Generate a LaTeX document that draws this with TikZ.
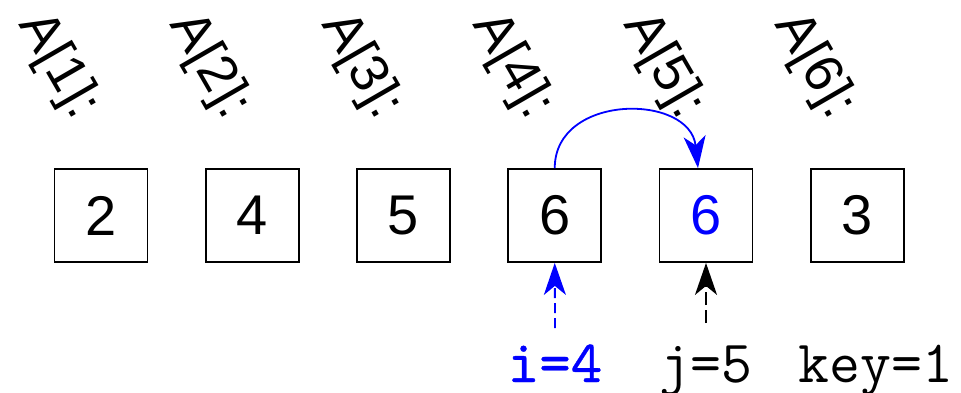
\documentclass[tikz,border=0pt]{standalone}
\usepackage{fontspec}
\setmainfont{Liberation Sans}
\newfontfamily\medmono[FakeBold=0.6]{lmmono10-regular.otf}
\usetikzlibrary{arrows.meta}
\begin{document}
\begin{tikzpicture}[x=1pt,y=-1pt,
  cell/.style={draw, line width=1.8pt, minimum size=93pt, inner sep=0pt,
    font=\fontsize{56}{60}\selectfont},
  lab/.style={rotate=-60, inner sep=0pt, font=\fontsize{54}{58}\selectfont},
  tip/.style={-{Stealth[length=32pt,width=22pt,inset=9pt]}},
  ptr/.style={line width=1.8pt, tip},
  var/.style={anchor=base, inner sep=0pt, font=\ttfamily\fontsize{60}{62}\selectfont}]
\useasboundingbox (0,0) rectangle (961,392);
\foreach \v/\c [count=\k] in {2/black,4/black,5/black,6/black,6/blue,3/black}{
  \node[cell, text=\c] (b\k) at ({101+151.25*(\k-1)},215.5) {\v};
  \node[lab] (l\k) at ({58.5+151.25*(\k-1)},66) {A[\k]:};
}
\draw[ptr, blue] (b4.north) .. controls +(0,-75) and +(-8,-75) .. ([xshift=-8pt]b5.north);
\node[var, text=blue, font=\medmono\fontsize{60}{62}\selectfont] (vi) at (555,382) {i=4};
\node[var] (vj) at (706,382) {j=5};
\node[var] (vk) at (876,382) {key=1};
\coordinate (ci) at (555,328);
\coordinate (cj) at (706,323);
\draw[ptr, blue, dash pattern=on 10pt off 5pt] (ci) -- (b4.south);
\draw[ptr, dash pattern=on 13pt off 5pt] (cj) -- (b5.south);
\end{tikzpicture}
\end{document}
